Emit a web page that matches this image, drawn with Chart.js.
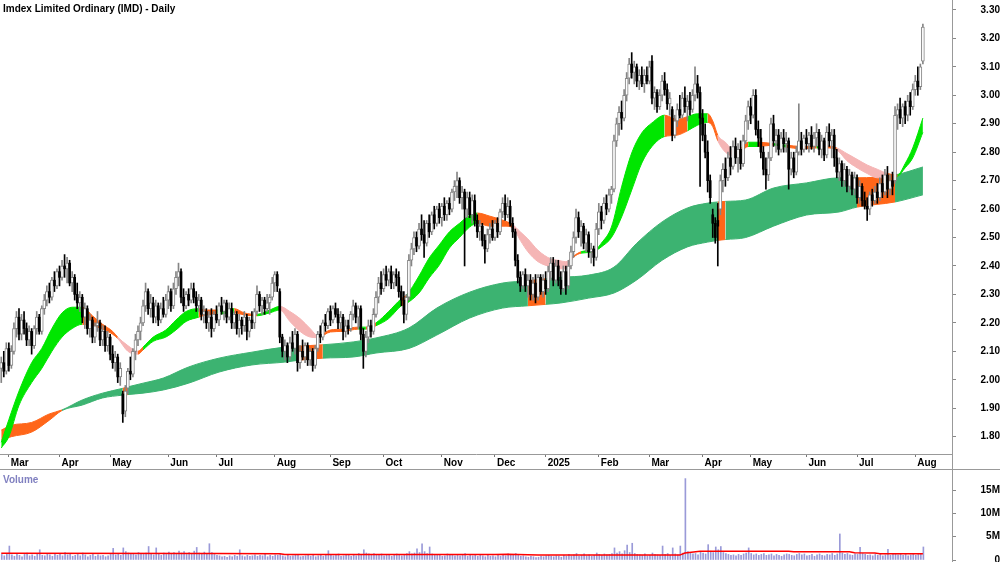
<!DOCTYPE html>
<html>
<head>
<meta charset="utf-8">
<script src="https://cdn.jsdelivr.net/npm/chart.js@4.4.1/dist/chart.umd.min.js"></script>
<style>
  html, body { margin: 0; padding: 0; background: #fff; }
  #wrap { position: relative; width: 1000px; height: 562px; overflow: hidden; font-family: 'Liberation Sans', Arial, sans-serif; }
  #priceChart { position: absolute; left: 0; top: 0; }
  #volChart { position: absolute; left: 0; top: 470px; }
  .lbl { position: absolute; font-weight: bold; font-size: 10px; white-space: nowrap; line-height: 12px; }
  #title { left: 3px; top: 3px; color: #000; }
  #volLabel { left: 3px; top: 474px; color: #8080c0; }
  #stripBottom { position: absolute; left: 0; top: 469px; width: 1000px; height: 1px; background: #999; }
  #axisLine { position: absolute; left: 952px; top: 0; width: 1px; height: 562px; background: #999; }
</style>
</head>
<body>
<div id="wrap">
  <canvas id="priceChart" width="1000" height="470"></canvas>
  <canvas id="volChart" width="1000" height="92"></canvas>
  <div id="stripBottom"></div>
  <div id="axisLine"></div>
  <div class="lbl" id="title">Imdex Limited Ordinary (IMD) - Daily</div>
  <div class="lbl" id="volLabel">Volume</div>
</div>
<script>
// trading calendar (ASX)
const startDate = '2024-02-27';
const holidays = ['2024-03-29', '2024-04-01', '2024-04-25', '2024-06-10', '2024-12-25', '2024-12-26',
  '2025-01-01', '2025-01-27', '2025-04-18', '2025-04-21', '2025-04-25', '2025-06-09'];
const emptySlots = 11;
const monthNames = ['Jan', 'Feb', 'Mar', 'Apr', 'May', 'Jun', 'Jul', 'Aug', 'Sep', 'Oct', 'Nov', 'Dec'];

// daily prices
const opens = [
  2.04, 2.06, 2.03, 2.11, 2.05, 2.10, 2.18, 2.22, 2.16, 2.21,
  2.18, 2.14, 2.17, 2.12, 2.18, 2.22, 2.17, 2.25, 2.28, 2.31,
  2.29, 2.35, 2.33, 2.38, 2.36, 2.40, 2.39, 2.41, 2.34, 2.36,
  2.30, 2.27, 2.29, 2.22, 2.25, 2.18, 2.21, 2.15, 2.19, 2.20,
  2.14, 2.17, 2.12, 2.15, 2.09, 2.06, 2.08, 2.01, 1.95, 1.89,
  1.97, 2.03, 2.02, 2.10, 2.14, 2.17, 2.20, 2.26, 2.31, 2.25,
  2.27, 2.22, 2.26, 2.21, 2.25, 2.23, 2.28, 2.31, 2.26, 2.32,
  2.36, 2.38, 2.29, 2.26, 2.30, 2.28, 2.32, 2.29, 2.26, 2.28,
  2.23, 2.24, 2.20, 2.22, 2.18, 2.23, 2.21, 2.26, 2.24, 2.27,
  2.22, 2.25, 2.20, 2.23, 2.18, 2.21, 2.19, 2.22, 2.17, 2.21,
  2.20, 2.24, 2.30, 2.26, 2.28, 2.25, 2.27, 2.29, 2.34, 2.37,
  2.31, 2.15, 2.10, 2.12, 2.08, 2.13, 2.11, 2.16, 2.06, 2.10,
  2.08, 2.12, 2.07, 2.10, 2.05, 2.11, 2.16, 2.15, 2.20, 2.19,
  2.24, 2.21, 2.25, 2.23, 2.20, 2.22, 2.17, 2.19, 2.18, 2.23,
  2.26, 2.22, 2.25, 2.16, 2.10, 2.15, 2.19, 2.17, 2.23, 2.29,
  2.34, 2.32, 2.37, 2.35, 2.38, 2.34, 2.37, 2.36, 2.31, 2.28,
  2.23, 2.29, 2.42, 2.46, 2.50, 2.47, 2.53, 2.51, 2.48, 2.55,
  2.52, 2.58, 2.55, 2.60, 2.57, 2.61, 2.58, 2.62, 2.60, 2.66,
  2.68, 2.70, 2.64, 2.66, 2.60, 2.64, 2.58, 2.63, 2.56, 2.52,
  2.54, 2.49, 2.46, 2.51, 2.53, 2.50, 2.55, 2.52, 2.59, 2.62,
  2.58, 2.61, 2.55, 2.52, 2.42, 2.36, 2.33, 2.37, 2.33, 2.35,
  2.30, 2.34, 2.29, 2.36, 2.31, 2.35, 2.32, 2.38, 2.41, 2.35,
  2.40, 2.35, 2.32, 2.38, 2.33, 2.40, 2.45, 2.50, 2.57, 2.52,
  2.54, 2.48, 2.51, 2.45, 2.46, 2.43, 2.53, 2.59, 2.56, 2.62,
  2.60, 2.65, 2.67, 2.84, 2.90, 2.94, 2.92, 3.00, 3.06, 3.11,
  3.08, 3.10, 3.05, 3.07, 3.04, 3.07, 3.05, 3.12, 2.99, 3.01,
  2.96, 3.00, 3.05, 3.02, 2.97, 2.95, 2.86, 2.91, 2.95, 2.93,
  2.99, 2.96, 2.98, 2.95, 3.00, 3.04, 3.01, 2.92, 2.86, 2.80,
  2.70, 2.58, 2.55, 2.56, 2.60, 2.70, 2.74, 2.71, 2.78, 2.75,
  2.82, 2.78, 2.81, 2.76, 2.84, 2.91, 2.96, 2.93, 3.00, 2.88,
  2.85, 2.80, 2.74, 2.72, 2.78, 2.90, 2.84, 2.86, 2.81, 2.85,
  2.83, 2.84, 2.74, 2.78, 2.73, 2.80, 2.84, 2.81, 2.85, 2.83,
  2.86, 2.82, 2.85, 2.87, 2.81, 2.84, 2.79, 2.87, 2.84, 2.86,
  2.78, 2.73, 2.76, 2.70, 2.74, 2.68, 2.72, 2.67, 2.71, 2.64,
  2.68, 2.63, 2.61, 2.60, 2.65, 2.63, 2.66, 2.64, 2.69, 2.66,
  2.72, 2.67, 2.70, 2.70, 2.93, 2.95, 2.92, 2.96, 2.93, 2.98,
  2.96, 3.02, 3.05, 3.03, 3.12
];
const highs = [
  2.08, 2.10, 2.13, 2.13, 2.12, 2.20, 2.24, 2.25, 2.23, 2.24,
  2.20, 2.19, 2.18, 2.19, 2.24, 2.23, 2.26, 2.30, 2.33, 2.34,
  2.36, 2.38, 2.39, 2.40, 2.42, 2.44, 2.43, 2.42, 2.38, 2.37,
  2.34, 2.31, 2.30, 2.27, 2.26, 2.23, 2.22, 2.20, 2.24, 2.21,
  2.19, 2.19, 2.17, 2.16, 2.12, 2.10, 2.09, 2.06, 1.96, 1.98,
  2.04, 2.08, 2.11, 2.16, 2.19, 2.22, 2.28, 2.34, 2.32, 2.30,
  2.29, 2.28, 2.27, 2.27, 2.29, 2.30, 2.33, 2.32, 2.34, 2.38,
  2.41, 2.39, 2.32, 2.31, 2.32, 2.34, 2.34, 2.31, 2.30, 2.29,
  2.26, 2.25, 2.24, 2.25, 2.24, 2.26, 2.27, 2.29, 2.28, 2.28,
  2.27, 2.27, 2.24, 2.24, 2.23, 2.22, 2.24, 2.23, 2.22, 2.24,
  2.25, 2.33, 2.31, 2.29, 2.29, 2.30, 2.30, 2.36, 2.38, 2.38,
  2.32, 2.16, 2.14, 2.13, 2.15, 2.17, 2.18, 2.17, 2.12, 2.14,
  2.13, 2.13, 2.11, 2.11, 2.12, 2.17, 2.19, 2.21, 2.23, 2.25,
  2.26, 2.26, 2.27, 2.25, 2.24, 2.23, 2.21, 2.21, 2.24, 2.28,
  2.27, 2.26, 2.26, 2.18, 2.17, 2.21, 2.21, 2.25, 2.31, 2.36,
  2.38, 2.39, 2.40, 2.39, 2.40, 2.38, 2.39, 2.38, 2.33, 2.31,
  2.30, 2.44, 2.48, 2.52, 2.52, 2.55, 2.58, 2.56, 2.56, 2.58,
  2.59, 2.61, 2.61, 2.62, 2.62, 2.64, 2.63, 2.64, 2.67, 2.70,
  2.73, 2.71, 2.68, 2.67, 2.66, 2.66, 2.65, 2.65, 2.58, 2.56,
  2.55, 2.51, 2.53, 2.55, 2.56, 2.56, 2.57, 2.60, 2.64, 2.65,
  2.64, 2.63, 2.57, 2.53, 2.44, 2.38, 2.38, 2.39, 2.37, 2.37,
  2.36, 2.37, 2.37, 2.37, 2.37, 2.38, 2.40, 2.43, 2.43, 2.42,
  2.42, 2.38, 2.40, 2.40, 2.42, 2.47, 2.52, 2.60, 2.59, 2.56,
  2.55, 2.53, 2.52, 2.48, 2.47, 2.55, 2.62, 2.61, 2.64, 2.65,
  2.67, 2.68, 2.86, 2.92, 2.96, 2.98, 3.02, 3.08, 3.13, 3.15,
  3.12, 3.11, 3.09, 3.10, 3.09, 3.10, 3.12, 3.14, 3.03, 3.02,
  3.02, 3.07, 3.08, 3.04, 3.01, 2.96, 2.93, 2.97, 3.00, 3.01,
  3.03, 3.00, 3.01, 3.02, 3.10, 3.07, 3.03, 2.95, 2.90, 2.84,
  2.72, 2.60, 2.57, 2.62, 2.72, 2.76, 2.78, 2.80, 2.82, 2.84,
  2.85, 2.83, 2.84, 2.86, 2.93, 2.98, 2.99, 3.02, 3.02, 2.91,
  2.88, 2.82, 2.78, 2.80, 2.92, 2.93, 2.88, 2.88, 2.87, 2.88,
  2.87, 2.85, 2.80, 2.80, 2.82, 2.97, 2.87, 2.86, 2.88, 2.87,
  2.89, 2.87, 2.90, 2.88, 2.86, 2.85, 2.89, 2.90, 2.88, 2.88,
  2.81, 2.78, 2.77, 2.76, 2.75, 2.74, 2.73, 2.73, 2.72, 2.70,
  2.69, 2.66, 2.64, 2.66, 2.67, 2.68, 2.69, 2.71, 2.72, 2.74,
  2.75, 2.72, 2.73, 2.96, 2.97, 2.99, 2.97, 2.98, 3.00, 3.01,
  3.04, 3.07, 3.10, 3.11, 3.25
];
const lows = [
  1.99, 2.01, 2.02, 2.03, 2.04, 2.09, 2.15, 2.14, 2.14, 2.16,
  2.12, 2.12, 2.09, 2.11, 2.16, 2.16, 2.16, 2.23, 2.26, 2.27,
  2.28, 2.31, 2.32, 2.33, 2.35, 2.36, 2.34, 2.33, 2.31, 2.28,
  2.25, 2.24, 2.20, 2.18, 2.16, 2.15, 2.13, 2.13, 2.17, 2.12,
  2.12, 2.10, 2.10, 2.07, 2.04, 2.03, 1.99, 1.98, 1.85, 1.87,
  1.95, 2.00, 2.01, 2.07, 2.12, 2.14, 2.19, 2.24, 2.23, 2.22,
  2.20, 2.20, 2.19, 2.20, 2.22, 2.22, 2.25, 2.24, 2.25, 2.30,
  2.33, 2.27, 2.24, 2.25, 2.26, 2.27, 2.27, 2.24, 2.24, 2.21,
  2.20, 2.18, 2.17, 2.15, 2.17, 2.20, 2.19, 2.23, 2.21, 2.20,
  2.21, 2.18, 2.18, 2.16, 2.15, 2.16, 2.17, 2.14, 2.15, 2.18,
  2.18, 2.23, 2.24, 2.23, 2.23, 2.24, 2.23, 2.28, 2.31, 2.31,
  2.13, 2.08, 2.07, 2.06, 2.07, 2.10, 2.09, 2.03, 2.04, 2.07,
  2.06, 2.05, 2.05, 2.03, 2.04, 2.10, 2.13, 2.14, 2.17, 2.18,
  2.19, 2.20, 2.22, 2.18, 2.18, 2.14, 2.15, 2.16, 2.17, 2.21,
  2.20, 2.18, 2.14, 2.04, 2.08, 2.13, 2.15, 2.16, 2.22, 2.27,
  2.30, 2.31, 2.33, 2.33, 2.32, 2.32, 2.33, 2.29, 2.26, 2.20,
  2.21, 2.28, 2.40, 2.44, 2.45, 2.46, 2.49, 2.43, 2.47, 2.50,
  2.51, 2.53, 2.54, 2.55, 2.54, 2.56, 2.56, 2.58, 2.59, 2.63,
  2.64, 2.62, 2.60, 2.40, 2.57, 2.57, 2.55, 2.54, 2.50, 2.49,
  2.47, 2.41, 2.45, 2.48, 2.49, 2.49, 2.50, 2.51, 2.57, 2.56,
  2.57, 2.54, 2.50, 2.40, 2.34, 2.31, 2.32, 2.31, 2.29, 2.28,
  2.28, 2.27, 2.28, 2.30, 2.29, 2.30, 2.31, 2.35, 2.33, 2.34,
  2.33, 2.30, 2.31, 2.30, 2.32, 2.39, 2.43, 2.48, 2.50, 2.47,
  2.46, 2.45, 2.43, 2.41, 2.40, 2.42, 2.51, 2.53, 2.55, 2.58,
  2.59, 2.62, 2.66, 2.82, 2.86, 2.88, 2.91, 2.98, 3.04, 3.06,
  3.04, 3.03, 3.02, 3.03, 3.01, 3.04, 3.04, 2.97, 2.95, 2.94,
  2.95, 2.98, 3.00, 2.95, 2.93, 2.84, 2.85, 2.89, 2.92, 2.92,
  2.94, 2.91, 2.93, 2.94, 2.98, 2.99, 2.68, 2.84, 2.78, 2.66,
  2.62, 2.50, 2.48, 2.40, 2.58, 2.66, 2.68, 2.70, 2.72, 2.74,
  2.76, 2.73, 2.74, 2.75, 2.83, 2.88, 2.90, 2.92, 2.86, 2.82,
  2.78, 2.72, 2.67, 2.70, 2.77, 2.82, 2.80, 2.79, 2.80, 2.80,
  2.80, 2.67, 2.72, 2.71, 2.72, 2.79, 2.79, 2.80, 2.81, 2.80,
  2.81, 2.80, 2.82, 2.79, 2.78, 2.77, 2.78, 2.82, 2.78, 2.75,
  2.71, 2.70, 2.68, 2.68, 2.66, 2.66, 2.65, 2.65, 2.62, 2.62,
  2.61, 2.60, 2.56, 2.58, 2.61, 2.62, 2.62, 2.63, 2.64, 2.65,
  2.64, 2.65, 2.65, 2.69, 2.88, 2.90, 2.89, 2.90, 2.91, 2.93,
  2.95, 3.00, 3.00, 3.02, 3.11
];
const closes = [
  2.06, 2.03, 2.11, 2.05, 2.10, 2.18, 2.22, 2.16, 2.21, 2.18,
  2.14, 2.17, 2.12, 2.18, 2.22, 2.17, 2.25, 2.28, 2.31, 2.29,
  2.35, 2.33, 2.38, 2.36, 2.40, 2.39, 2.41, 2.34, 2.36, 2.30,
  2.27, 2.29, 2.22, 2.25, 2.18, 2.21, 2.15, 2.19, 2.20, 2.14,
  2.17, 2.12, 2.15, 2.09, 2.06, 2.08, 2.01, 2.04, 1.88, 1.96,
  2.03, 2.02, 2.10, 2.14, 2.17, 2.20, 2.26, 2.31, 2.25, 2.27,
  2.22, 2.26, 2.21, 2.25, 2.23, 2.28, 2.31, 2.26, 2.32, 2.36,
  2.38, 2.29, 2.26, 2.30, 2.28, 2.32, 2.29, 2.26, 2.28, 2.23,
  2.24, 2.20, 2.22, 2.18, 2.23, 2.21, 2.26, 2.24, 2.27, 2.22,
  2.25, 2.20, 2.23, 2.18, 2.21, 2.19, 2.22, 2.17, 2.21, 2.20,
  2.24, 2.30, 2.26, 2.28, 2.25, 2.27, 2.29, 2.34, 2.37, 2.33,
  2.15, 2.10, 2.12, 2.08, 2.13, 2.11, 2.16, 2.06, 2.10, 2.08,
  2.12, 2.07, 2.10, 2.05, 2.11, 2.16, 2.15, 2.20, 2.19, 2.24,
  2.21, 2.25, 2.23, 2.20, 2.22, 2.17, 2.19, 2.18, 2.23, 2.26,
  2.22, 2.25, 2.16, 2.10, 2.15, 2.19, 2.17, 2.23, 2.29, 2.34,
  2.32, 2.37, 2.35, 2.38, 2.34, 2.37, 2.36, 2.31, 2.28, 2.23,
  2.29, 2.42, 2.46, 2.50, 2.47, 2.53, 2.51, 2.48, 2.55, 2.52,
  2.58, 2.55, 2.60, 2.57, 2.61, 2.58, 2.62, 2.60, 2.66, 2.68,
  2.70, 2.64, 2.66, 2.60, 2.64, 2.58, 2.63, 2.56, 2.52, 2.54,
  2.49, 2.46, 2.51, 2.53, 2.50, 2.55, 2.52, 2.59, 2.62, 2.58,
  2.61, 2.55, 2.52, 2.42, 2.36, 2.33, 2.37, 2.33, 2.35, 2.30,
  2.34, 2.29, 2.36, 2.31, 2.35, 2.32, 2.38, 2.41, 2.35, 2.40,
  2.35, 2.32, 2.38, 2.33, 2.40, 2.45, 2.50, 2.57, 2.52, 2.54,
  2.48, 2.51, 2.45, 2.46, 2.43, 2.53, 2.59, 2.56, 2.62, 2.60,
  2.65, 2.67, 2.84, 2.90, 2.94, 2.92, 3.00, 3.06, 3.11, 3.08,
  3.10, 3.05, 3.07, 3.04, 3.07, 3.05, 3.10, 2.99, 3.01, 2.96,
  3.00, 3.05, 3.02, 2.97, 2.99, 2.86, 2.91, 2.95, 2.93, 2.99,
  2.96, 2.98, 2.95, 3.00, 3.04, 3.01, 2.92, 2.86, 2.80, 2.70,
  2.64, 2.55, 2.50, 2.54, 2.70, 2.74, 2.71, 2.78, 2.75, 2.82,
  2.78, 2.81, 2.76, 2.84, 2.91, 2.96, 2.93, 3.00, 2.88, 2.85,
  2.80, 2.74, 2.72, 2.78, 2.90, 2.84, 2.86, 2.81, 2.85, 2.83,
  2.84, 2.74, 2.78, 2.73, 2.80, 2.84, 2.81, 2.85, 2.83, 2.86,
  2.82, 2.85, 2.87, 2.81, 2.84, 2.79, 2.87, 2.84, 2.86, 2.78,
  2.73, 2.76, 2.70, 2.74, 2.68, 2.72, 2.67, 2.71, 2.64, 2.68,
  2.63, 2.61, 2.60, 2.65, 2.63, 2.66, 2.64, 2.69, 2.66, 2.72,
  2.67, 2.70, 2.68, 2.93, 2.95, 2.92, 2.96, 2.93, 2.98, 2.96,
  3.02, 3.05, 3.03, 3.10, 3.24
];
// volume, millions of shares
const volumes = [
  1.2, 0.9, 1.4, 3.0, 1.1, 0.8, 1.3, 1.0, 0.7, 1.2, 1.5, 0.9, 1.1, 0.8, 1.3, 2.2, 1.0, 0.9, 1.4, 1.1,
  0.8, 1.2, 1.0, 1.3, 0.9, 1.6, 1.1, 1.4, 0.8, 1.0, 1.2, 0.9, 1.5, 1.1, 0.7, 1.0, 1.3, 0.8, 1.1, 0.9,
  1.0, 0.7, 0.9, 1.2, 2.5, 1.1, 1.4, 1.0, 2.6, 1.8, 1.5, 1.2, 1.4, 1.1, 1.6, 1.3, 1.2, 1.5, 2.9, 1.4,
  1.1, 2.6, 1.3, 1.0, 1.5, 1.2, 1.7, 1.4, 1.6, 1.3, 1.9, 1.5, 1.8, 1.2, 1.6, 1.4, 1.9, 2.7, 1.5, 1.3,
  1.7, 1.4, 3.5, 1.6, 1.2, 1.0, 0.9, 0.7, 0.8, 0.6, 0.9, 0.7, 1.0, 0.8, 2.2, 0.9, 0.7, 1.0, 0.8, 0.9,
  1.1, 0.8, 1.0, 0.9, 1.2, 0.7, 1.0, 0.8, 1.1, 1.0, 1.3, 0.9, 0.7, 1.0, 0.8, 0.9, 1.1, 1.0, 0.7, 0.8,
  0.9, 1.0, 0.8, 1.1, 0.7, 0.9, 1.0, 0.8, 1.2, 2.0, 1.1, 0.9, 1.0, 1.3, 0.8, 0.9, 1.0, 1.2, 0.8, 1.1,
  0.9, 1.4, 1.2, 2.2, 1.5, 1.3, 1.1, 1.4, 1.2, 1.0, 1.3, 0.9, 1.1, 1.2, 0.8, 1.0, 1.3, 1.1, 0.9, 1.2,
  1.4, 1.8, 1.3, 1.5, 2.4, 1.6, 3.5, 1.8, 1.4, 2.8, 1.3, 1.1, 1.0, 1.2, 0.8, 0.9, 1.3, 1.0, 1.1, 0.9,
  1.2, 0.9, 1.0, 1.4, 0.8, 1.1, 0.9, 1.0, 0.8, 1.2, 0.9, 0.7, 1.0, 0.8, 0.9, 0.7, 1.0, 0.8, 1.1, 0.9,
  1.3, 1.0, 1.2, 1.4, 1.1, 0.8, 0.9, 0.7, 0.6, 0.8, 0.7, 0.5, 0.6, 0.8, 0.7, 0.9, 1.0, 0.8, 0.7, 0.9,
  0.8, 0.6, 1.0, 0.8, 1.2, 0.9, 1.1, 1.4, 0.8, 1.0, 1.3, 0.9, 1.1, 0.8, 1.0, 1.5, 1.2, 1.0, 1.3, 1.1,
  1.2, 1.4, 2.6, 1.5, 1.8, 1.3, 2.0, 3.2, 1.6, 3.6, 1.4, 1.2, 1.1, 1.0, 1.3, 0.9, 1.0, 1.5, 1.2, 1.1,
  1.0, 3.0, 1.2, 1.4, 1.0, 2.6, 1.3, 1.1, 3.0, 1.5, 17.5, 1.8, 1.6, 1.3, 1.4, 1.1, 1.7, 1.5, 1.3, 3.3,
  1.9, 1.6, 2.8, 2.2, 2.9, 1.6, 1.4, 1.2, 1.0, 1.1, 0.9, 1.2, 1.0, 1.3, 1.5, 2.6, 1.4, 1.1, 1.3, 1.0,
  1.2, 1.4, 1.0, 1.1, 1.3, 0.9, 1.2, 1.0, 0.8, 1.1, 1.3, 1.2, 1.0, 0.9, 1.2, 1.4, 1.1, 1.3, 0.9, 1.0,
  1.2, 0.8, 1.1, 1.3, 1.0, 0.9, 1.2, 1.1, 1.4, 1.0, 1.3, 5.6, 1.5, 1.2, 1.4, 1.1, 1.0, 1.3, 1.2, 2.7,
  1.4, 1.2, 1.0, 1.1, 0.9, 1.2, 1.0, 1.3, 0.9, 1.1, 2.3, 1.0, 1.2, 1.4, 1.1, 1.3, 1.0, 1.2, 0.9, 1.1,
  1.3, 1.0, 1.2, 1.4, 2.8
];

// short-term ribbon, read at these bar positions; zone = colour from that point on
const shortIdx = [0, 3, 7, 12, 16, 20, 24, 28, 32, 36, 40, 44, 46, 50, 54, 56, 60, 65, 69, 73,
  78, 81, 85, 92, 96, 101, 106, 110, 114, 118, 122, 125, 130, 135, 141, 144, 148, 153, 158, 160,
  165, 169, 173, 177, 181, 185, 188, 193, 199, 202, 205, 208, 212, 217, 220, 223, 226, 229, 233, 235,
  237, 241, 245, 249, 253, 257, 262, 267, 271, 275, 279, 281, 283, 286, 290, 295, 299, 305, 310, 316,
  322, 326, 330, 334, 338, 342, 346, 350, 354, 357, 360, 364];
const shortUpper = [1.78, 1.86, 1.96, 2.06, 2.11, 2.18, 2.235, 2.255, 2.255, 2.225, 2.195, 2.17, 2.15, 2.12, 2.10, 2.115, 2.15, 2.175, 2.21, 2.24,
  2.25, 2.245, 2.245, 2.25, 2.235, 2.23, 2.245, 2.258, 2.24, 2.215, 2.18, 2.155, 2.175, 2.178, 2.185, 2.185, 2.20, 2.24, 2.285, 2.297,
  2.365, 2.428, 2.474, 2.52, 2.55, 2.578, 2.586, 2.575, 2.558, 2.545, 2.52, 2.495, 2.455, 2.425, 2.42, 2.415, 2.435, 2.45, 2.455, 2.46,
  2.48, 2.537, 2.678, 2.797, 2.868, 2.903, 2.93, 2.915, 2.925, 2.935, 2.935, 2.91, 2.86, 2.835, 2.80, 2.835, 2.835, 2.83, 2.825, 2.82,
  2.82, 2.822, 2.815, 2.795, 2.775, 2.755, 2.74, 2.725, 2.72, 2.76, 2.815, 2.92];
const shortLower = [1.76, 1.80, 1.91, 1.99, 2.04, 2.10, 2.15, 2.18, 2.195, 2.19, 2.178, 2.16, 2.145, 2.10, 2.09, 2.105, 2.135, 2.15, 2.175, 2.205,
  2.22, 2.228, 2.23, 2.235, 2.228, 2.225, 2.235, 2.245, 2.205, 2.17, 2.15, 2.148, 2.168, 2.17, 2.178, 2.178, 2.19, 2.215, 2.26, 2.268,
  2.305, 2.358, 2.403, 2.463, 2.50, 2.537, 2.55, 2.54, 2.54, 2.535, 2.49, 2.45, 2.415, 2.397, 2.39, 2.39, 2.43, 2.445, 2.448, 2.455,
  2.467, 2.50, 2.572, 2.667, 2.762, 2.82, 2.855, 2.86, 2.875, 2.895, 2.905, 2.89, 2.84, 2.80, 2.785, 2.82, 2.82, 2.825, 2.818, 2.812,
  2.815, 2.815, 2.808, 2.77, 2.745, 2.725, 2.71, 2.71, 2.715, 2.745, 2.78, 2.87];
const shortZone = ['g', 'g', 'g', 'g', 'g', 'g', 'g', 'g', 'o', 'o', 'o', 'o', 'p', 'p', 'o', 'g', 'g', 'g', 'g', 'g',
  'o', 'o', 'g', 'o', 'o', 'g', 'g', 'p', 'p', 'p', 'p', 'o', 'o', 'o', 'g', 'o', 'g', 'g', 'o', 'g',
  'g', 'g', 'g', 'g', 'g', 'g', 'o', 'o', 'o', 'p', 'p', 'p', 'p', 'p', 'p', 'p', 'o', 'g', 'o', 'g',
  'g', 'g', 'g', 'g', 'g', 'g', 'o', 'o', 'g', 'g', 'o', 'o', 'p', 'p', 'o', 'g', 'o', 'g', 'o', 'o',
  'g', 'o', 'p', 'p', 'p', 'p', 'p', 'o', 'g', 'g', 'g', 'g'];

// long-term ribbon
const longIdx = [0, 4, 12, 19, 24, 32, 40, 48, 50, 56, 64, 74, 86, 99, 112, 117, 127, 139, 148, 161,
  172, 185, 198, 208, 215, 221, 232, 242, 251, 261, 271, 279, 283, 286, 294, 305, 318, 331, 338, 353, 364];
const longUpper = [1.823, 1.84, 1.85, 1.88, 1.894, 1.929, 1.953, 1.97, 1.975, 1.988, 2.006, 2.045, 2.076, 2.097, 2.115, 2.118, 2.123, 2.133, 2.147, 2.182,
  2.252, 2.308, 2.34, 2.348, 2.355, 2.36, 2.368, 2.396, 2.48, 2.555, 2.604, 2.621, 2.625, 2.627, 2.632, 2.674, 2.692, 2.71, 2.71, 2.72, 2.748];
const longLower = [1.788, 1.80, 1.816, 1.858, 1.892, 1.911, 1.936, 1.946, 1.948, 1.953, 1.964, 1.988, 2.027, 2.052, 2.062, 2.068, 2.076, 2.08, 2.094, 2.11,
  2.157, 2.217, 2.252, 2.26, 2.265, 2.27, 2.287, 2.305, 2.351, 2.42, 2.467, 2.484, 2.49, 2.493, 2.50, 2.54, 2.579, 2.59, 2.607, 2.625, 2.65];
const longZone = ['o', 'o', 'o', 'o', 'd', 'd', 'd', 'o', 'd', 'd', 'd', 'd', 'd', 'd', 'd', 'o', 'd', 'd', 'd', 'd',
  'd', 'd', 'd', 'o', 'd', 'd', 'd', 'd', 'd', 'd', 'd', 'd', 'o', 'd', 'd', 'd', 'd', 'd', 'o', 'd', 'd'];

// volume average line
const volAvgIdx = [0, 85, 110, 112, 195, 200, 212, 268, 270, 276, 311, 313, 335, 337, 345, 347, 364];
const volAvg = [1.45, 1.42, 1.35, 1.2, 1.2, 1.25, 1.05, 1.05, 1.5, 1.9, 1.9, 1.75, 1.75, 1.55, 1.5, 1.35, 1.35];

const zoneColor = { g: '#00e600', o: '#ff6619', p: '#f5b5b5', d: '#3cb371' };
const upBorder = '#858585';
const fontBold = { family: "'Liberation Sans', Arial, sans-serif", size: 10, weight: 'bold' };

function tradingDays(start, count) {
  const out = [];
  const d = new Date(start + 'T00:00:00Z');
  while (out.length < count) {
    const iso = d.toISOString().slice(0, 10);
    const wd = d.getUTCDay();
    if (wd !== 0 && wd !== 6 && !holidays.includes(iso)) out.push(iso);
    d.setUTCDate(d.getUTCDate() + 1);
  }
  return out;
}

const nSlots = closes.length + emptySlots;
const days = tradingDays(startDate, nSlots);
const monthStarts = [];
for (let i = 1; i < days.length; i++) {
  if (days[i].slice(0, 7) !== days[i - 1].slice(0, 7)) monthStarts.push(i);
}
function monthLabel(i) {
  const [y, m] = days[i].split('-');
  return m === '01' ? y : monthNames[+m - 1];
}
const isUp = i => closes[i] >= opens[i];

// fixed axis sizes, and no extra padding pushed into the plot
function fitRightAxis(s) {
  s.width = 48;
  s.paddingTop = 0;
  s.paddingBottom = 0;
}

function ribbonLine(idx, vals, zone, fill, order) {
  return {
    type: 'line',
    xAxisID: 'x2',
    data: idx.map((x, j) => ({ x: x, y: vals[j] })),
    fill: fill,
    order: order,
    pointRadius: 0,
    borderWidth: 1,
    cubicInterpolationMode: 'monotone',
    borderColor: zoneColor[zone[0]],
    backgroundColor: zoneColor[zone[0]],
    segment: {
      borderColor: c => zoneColor[zone[c.p0DataIndex]],
      backgroundColor: c => zoneColor[zone[c.p0DataIndex]]
    }
  };
}

new Chart(document.getElementById('priceChart'), {
  type: 'bar',
  data: {
    labels: days,
    datasets: [
      ribbonLine(longIdx, longUpper, longZone, '+1', 5),
      ribbonLine(longIdx, longLower, longZone, false, 5),
      ribbonLine(shortIdx, shortUpper, shortZone, '+1', 4),
      ribbonLine(shortIdx, shortLower, shortZone, false, 4),
      {
        // wicks
        data: lows.map((l, i) => [l, highs[i]]),
        grouped: false,
        barThickness: 1,
        order: 3,
        backgroundColor: c => isUp(c.dataIndex) ? upBorder : '#000'
      },
      {
        // hollow (up) bodies
        data: opens.map((o, i) => isUp(i) ? [o, closes[i]] : null),
        grouped: false,
        barThickness: 3,
        minBarLength: 1,
        borderSkipped: false,
        borderWidth: 1,
        order: 2,
        backgroundColor: '#fff',
        borderColor: upBorder
      },
      {
        // black (down) bodies
        data: opens.map((o, i) => isUp(i) ? null : [o, closes[i]]),
        grouped: false,
        barThickness: 2,
        minBarLength: 1,
        borderSkipped: false,
        order: 1,
        backgroundColor: '#000'
      }
    ]
  },
  options: {
    responsive: false,
    animation: false,
    devicePixelRatio: 1,
    layout: { padding: 0 },
    plugins: { legend: { display: false }, tooltip: { enabled: false } },
    scales: {
      x: {
        type: 'category',
        offset: true,
        grid: { display: true, offset: false, drawOnChartArea: false, tickLength: 3, color: '#777' },
        border: { display: true, color: '#999' },
        ticks: {
          autoSkip: false, maxRotation: 0, align: 'start', labelOffset: 2, padding: 0,
          color: '#000', font: fontBold,
          callback: v => monthLabel(v)
        },
        afterBuildTicks: s => { s.ticks = monthStarts.map(v => ({ value: v })); },
        afterFit: s => { s.height = 16; s.paddingLeft = 0; s.paddingRight = 0; }
      },
      x2: { type: 'linear', display: false, min: -0.5, max: nSlots - 0.5, offset: false },
      y: {
        position: 'right',
        min: 1.739,
        max: 3.335,
        grid: { drawOnChartArea: false, tickLength: 4, color: '#888' },
        border: { display: false },
        ticks: {
          stepSize: 0.1, includeBounds: false, crossAlign: 'far', padding: 21,
          color: '#000', font: fontBold,
          callback: v => v.toFixed(2)
        },
        afterFit: fitRightAxis
      }
    }
  }
});

new Chart(document.getElementById('volChart'), {
  type: 'bar',
  data: {
    labels: days,
    datasets: [
      {
        type: 'line',
        xAxisID: 'x2',
        data: volAvgIdx.map((x, j) => ({ x: x, y: volAvg[j] })),
        borderColor: '#ff0000',
        borderWidth: 1.5,
        pointRadius: 0,
        order: 1
      },
      {
        data: volumes,
        barThickness: 1,
        backgroundColor: '#9a9ad8',
        order: 2
      }
    ]
  },
  options: {
    responsive: false,
    animation: false,
    devicePixelRatio: 1,
    layout: { padding: { bottom: 2 } },
    plugins: { legend: { display: false }, tooltip: { enabled: false } },
    scales: {
      x: { type: 'category', display: false, offset: true },
      x2: { type: 'linear', display: false, min: -0.5, max: nSlots - 0.5, offset: false },
      y: {
        position: 'right',
        min: 0,
        max: 19.35,
        grid: { drawOnChartArea: false, tickLength: 4, color: '#888' },
        border: { display: false },
        ticks: {
          stepSize: 5, includeBounds: false, crossAlign: 'far', padding: 21,
          color: '#000', font: fontBold,
          callback: v => v === 0 ? '0' : v + 'M'
        },
        afterFit: fitRightAxis
      }
    }
  }
});
</script>
</body>
</html>
